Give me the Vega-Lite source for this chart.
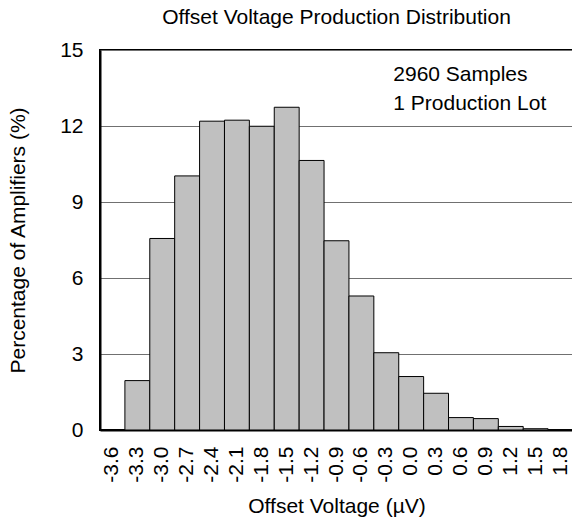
{
  "$schema": "https://vega.github.io/schema/vega-lite/v6.json",
  "autosize": "none",
  "width": 473,
  "height": 380,
  "padding": {"left": 100, "top": 50, "right": 0, "bottom": 92},
  "background": "white",
  "config": {
    "font": "Liberation Sans",
    "view": {"stroke": "black", "strokeWidth": 2},
    "axis": {"labelFont": "Liberation Sans", "titleFont": "Liberation Sans", "labelColor": "black", "titleColor": "black", "titleFontWeight": "normal"}
  },
  "title": {"text": "Offset Voltage Production Distribution", "fontSize": 21, "fontWeight": "normal", "anchor": "middle", "offset": 11, "color": "black"},
  "data": {"values": [
    {"v": "-3.6", "p": 0.0},
    {"v": "-3.3", "p": 1.95},
    {"v": "-3.0", "p": 7.56},
    {"v": "-2.7", "p": 10.03},
    {"v": "-2.4", "p": 12.19},
    {"v": "-2.1", "p": 12.23},
    {"v": "-1.8", "p": 11.99},
    {"v": "-1.5", "p": 12.74},
    {"v": "-1.2", "p": 10.64},
    {"v": "-0.9", "p": 7.47},
    {"v": "-0.6", "p": 5.29},
    {"v": "-0.3", "p": 3.05},
    {"v": "0.0", "p": 2.11},
    {"v": "0.3", "p": 1.45},
    {"v": "0.6", "p": 0.49},
    {"v": "0.9", "p": 0.45},
    {"v": "1.2", "p": 0.14},
    {"v": "1.5", "p": 0.05},
    {"v": "1.8", "p": 0.01}
  ]},
  "layer": [
    {
      "mark": {"type": "bar", "fill": "#c0c0c0", "stroke": "black", "strokeWidth": 1},
      "encoding": {
        "x": {"field": "v", "type": "nominal", "sort": null,
              "scale": {"paddingInner": 0, "paddingOuter": 0},
              "axis": {"title": "Offset Voltage (µV)", "labelAngle": -90, "labelFontSize": 21, "titleFontSize": 21, "ticks": false, "labelPadding": 16, "titlePadding": 13, "domainColor": "black", "domainWidth": 2}},
        "y": {"field": "p", "type": "quantitative",
              "scale": {"domain": [0, 15], "nice": false},
              "axis": {"title": "Percentage of Amplifiers (%)", "values": [0, 3, 6, 9, 12, 15], "labelFontSize": 21, "titleFontSize": 21, "ticks": false, "labelPadding": 17, "titlePadding": 31, "grid": true, "gridColor": "#707070", "gridWidth": 1, "gridOpacity": 1, "domainColor": "black", "domainWidth": 2}}
      }
    },
    {
      "data": {"values": [{"note": "annotation"}]},
      "mark": {"type": "text", "text": ["2960 Samples", "1 Production Lot"], "align": "left", "baseline": "middle", "fontSize": 21, "lineHeight": 29, "dx": 7, "fill": "black"},
      "encoding": {
        "x": {"datum": "-0.3"},
        "y": {"datum": 14.01}
      }
    }
  ]
}
